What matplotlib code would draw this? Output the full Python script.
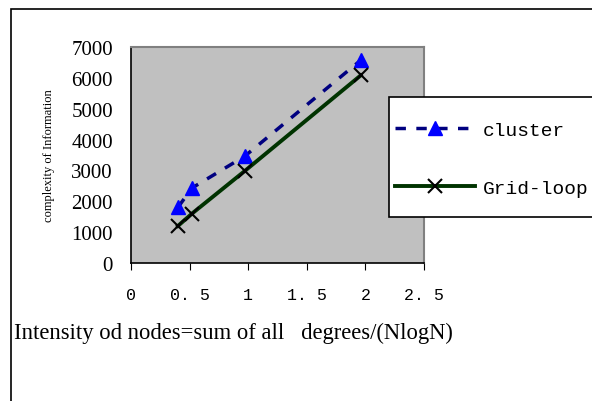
import matplotlib
matplotlib.use("Agg")
import matplotlib.pyplot as plt
from matplotlib.patches import Rectangle

W, H = 592, 402

cluster_x = [0.40, 0.52, 0.97, 1.96]
cluster_y = [1800, 2430, 3460, 6570]
grid_x = [0.40, 0.52, 0.97, 1.96]
grid_y = [1200, 1600, 2980, 6080]

xticks = [0, 0.5, 1, 1.5, 2, 2.5]
xtick_labels = ["0", "0. 5", "1", "1. 5", "2", "2. 5"]
yticks = [0, 1000, 2000, 3000, 4000, 5000, 6000, 7000]

fig = plt.figure(figsize=(W / 100, H / 100), dpi=100)

# outer chart frame (cut off at right and bottom)
fig.patches.append(Rectangle((11 / W, -0.1), 1.2, 1.1 - 10 / H, transform=fig.transFigure,
                             fill=False, edgecolor="black", linewidth=1.2))

ax = fig.add_axes([131 / W, 1 - 264 / H, 293 / W, 216 / H])
ax.set_facecolor("#C0C0C0")

ax.plot(cluster_x, cluster_y, color="#000080", linestyle=(0, (3, 3)), linewidth=2.5,
        marker="^", markersize=10, markerfacecolor="#0000FF", markeredgecolor="#0000FF",
        label="cluster")
ax.plot(grid_x, grid_y, color="#003300", linestyle="-", linewidth=2.8,
        marker="x", markersize=10, markeredgecolor="black", markeredgewidth=1.5,
        label="Grid-loop")

ax.set_xlim(0, 2.5)
ax.set_ylim(0, 7000)
ax.set_xticks(xticks)
ax.set_xticklabels(xtick_labels, family="Liberation Mono", fontsize=12)
ax.set_yticks(yticks)
ax.set_yticklabels([str(v) for v in yticks], family="Liberation Serif", fontsize=15)
ax.tick_params(axis="x", direction="out", length=5, pad=12)
ax.tick_params(axis="y", length=0, pad=13)

for s in ["top", "right"]:
    ax.spines[s].set_color("#808080")
    ax.spines[s].set_linewidth(1.5)
for s in ["left", "bottom"]:
    ax.spines[s].set_color("black")
    ax.spines[s].set_linewidth(1.2)

ax.set_ylabel("complexity of Information", family="Liberation Serif", fontsize=9)
ax.yaxis.set_label_coords(-0.258, 0.5)

fig.text(14 / W, 1 - 333 / H, "Intensity od nodes=sum of all   degrees/(NlogN)",
         family="Liberation Serif", fontsize=16.3, va="center", ha="left")

# legend box runs off the right edge of the picture
fig.patches.append(Rectangle((389 / W, 1 - 218 / H), 1.0, 120 / H, transform=fig.transFigure,
                             facecolor="white", edgecolor="black", linewidth=1.2, zorder=5))
leg = fig.legend(loc="upper left", bbox_to_anchor=(395 / W, 1 - 122 / H),
                 prop={"family": "Liberation Mono", "size": 14},
                 frameon=False, labelspacing=2.1, handlelength=4.1,
                 handletextpad=0.4, borderpad=0, borderaxespad=0)
leg.set_zorder(6)

fig.savefig("out.png", dpi=100)
